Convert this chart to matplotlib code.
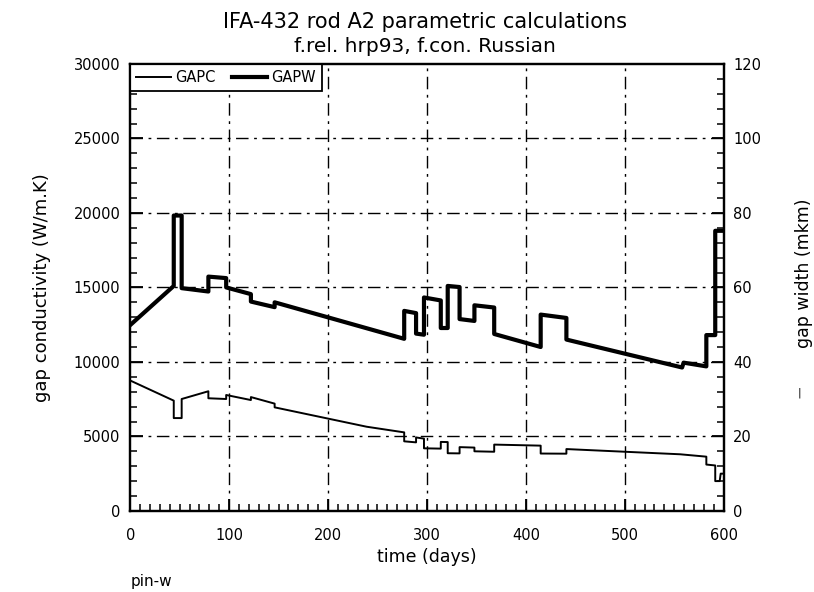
import numpy as np
import matplotlib.pyplot as plt
from matplotlib.ticker import MultipleLocator

# gap width (mkm) vs time, right axis
gapw_days = [0, 44, 44, 52, 52, 79, 79, 97, 97, 122, 122, 146, 146,
             277, 277, 289, 289, 297, 297, 314, 314, 321, 321, 333, 333,
             348, 348, 368, 368, 415, 415, 441, 441, 558, 559.5, 582.5,
             582.5, 591.5, 591.5, 600]
gapw_vals = [49.9, 60.4, 79.3, 79.3, 59.8, 58.9, 62.9, 62.5, 60.0, 58.2,
             56.2, 54.7, 56.0, 46.2, 53.7, 53.1, 47.6, 47.3, 57.3, 56.5,
             49.1, 49.1, 60.4, 60.1, 51.5, 51.0, 55.2, 54.6, 47.5, 44.0,
             52.7, 51.8, 46.0, 38.5, 39.8, 38.8, 47.2, 47.2, 75.2, 75.2]

# gap conductivity (W/m.K) vs time, left axis
gapc_days = [0, 44, 44, 52, 52, 79, 79, 97, 97, 122, 122, 146, 146, 239,
             277, 277, 289, 289, 297, 297, 314, 314, 321, 321, 333, 333,
             348, 348, 368, 368, 415, 415, 441, 441, 556, 582.5, 582.5,
             591.5, 591.5, 596, 597, 600]
gapc_vals = [8750, 7400, 6230, 6230, 7510, 8030, 7560, 7510, 7780, 7440,
             7640, 7200, 6950, 5650, 5270, 4670, 4600, 4930, 4850, 4200,
             4180, 4630, 4620, 3870, 3860, 4280, 4250, 4000, 3970, 4450,
             4380, 3850, 3840, 4150, 3800, 3640, 3110, 3050, 2000, 2000,
             2500, 2500]

fig = plt.figure(figsize=(8.14, 5.92), dpi=100)
ax = fig.add_axes([0.160, 0.137, 0.729, 0.755])
ax2 = ax.twinx()

grid_ls = (0, (9, 4, 2, 4))
for v in range(100, 600, 100):
    ax.axvline(v, color='black', lw=1.0, ls=grid_ls, zorder=1)
for v in range(5000, 30000, 5000):
    ax.axhline(v, color='black', lw=1.0, ls=grid_ls, zorder=1)

l1, = ax.plot(gapc_days, gapc_vals, color='black', lw=1.4, zorder=3)
l2, = ax2.plot(gapw_days, gapw_vals, color='black', lw=3.0, zorder=3)

ax.set_xlim(0, 600)
ax.set_ylim(0, 30000)
ax2.set_ylim(0, 120)

ax.xaxis.set_major_locator(MultipleLocator(100))
ax.xaxis.set_minor_locator(MultipleLocator(10))
ax.yaxis.set_major_locator(MultipleLocator(5000))
ax.yaxis.set_minor_locator(MultipleLocator(1000))
ax2.yaxis.set_major_locator(MultipleLocator(20))
ax2.yaxis.set_minor_locator(MultipleLocator(4))

for a in (ax, ax2):
    a.tick_params(which='major', direction='in', length=9, width=1.3,
                  labelsize=10.5, pad=7)
    a.tick_params(which='minor', direction='in', length=5, width=1.1)
    for s in a.spines.values():
        s.set_linewidth(1.6)
ax.tick_params(axis='x', which='major', pad=12)
ax.tick_params(top=False, which='both')

ax.set_xlabel('time (days)', fontsize=12.5, labelpad=4)
ax.set_ylabel('gap conductivity (W/m.K)', fontsize=13, labelpad=16)

leg = ax.legend([l1, l2], ['GAPC', 'GAPW'], loc='upper left', ncol=2,
                fontsize=10.5, frameon=True, fancybox=False,
                edgecolor='black', framealpha=1, borderaxespad=0,
                handlelength=2.4, handletextpad=0.3, columnspacing=1.1,
                borderpad=0.4)
leg.get_frame().set_linewidth(1.3)
leg.set_zorder(5)

fig.text(0.522, 0.962, 'IFA-432 rod A2 parametric calculations',
         ha='center', va='center', fontsize=15)
fig.text(0.522, 0.921, 'f.rel. hrp93, f.con. Russian',
         ha='center', va='center', fontsize=14.5)
fig.text(0.988, 0.538, 'gap width (mkm)', ha='center', va='center',
         fontsize=12.5, rotation=90)
fig.text(0.982, 0.336, '|', ha='center', va='center', fontsize=8)
fig.text(0.160, 0.017, 'pin-w', ha='left', va='center', fontsize=11)

fig.savefig('out.png', dpi=100)
